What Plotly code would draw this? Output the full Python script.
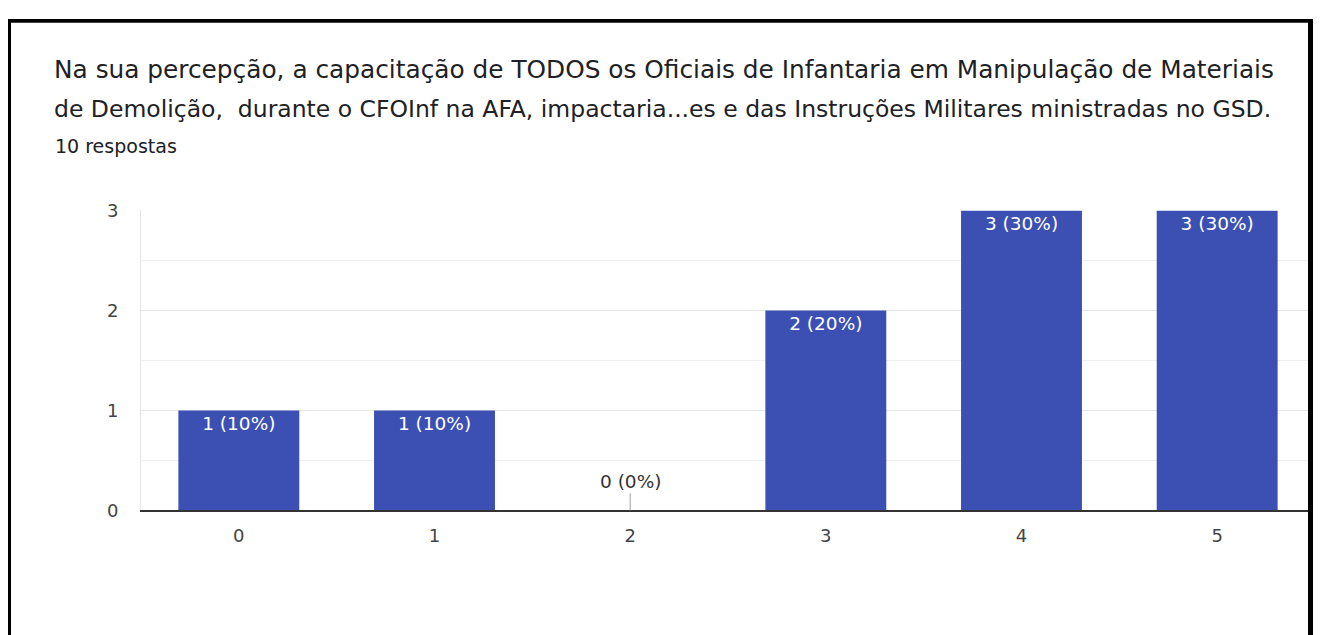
import plotly.graph_objects as go

# survey answers (scale 0..5) and number of responses
categories = ["0", "1", "2", "3", "4", "5"]
counts = [1, 1, 0, 2, 3, 3]
total = 10
title_lines = [
    "Na sua percepção, a capacitação de TODOS os Oficiais de Infantaria em Manipulação de Materiais",
    "de Demolição,  durante o CFOInf na AFA, impactaria...es e das Instruções Militares ministradas no GSD.",
]
subtitle = "10 respostas"
y_ticks = [0, 1, 2, 3]

# the page body adds an 8px margin
OFF = 8
W, H = 1321 - OFF, 638
bar_color = "#3c50b4"
FONT = "DejaVu Sans"

# vertical correction measured from earlier renders
YA, YB = 10.9, 0.967


def px(x):
    return (x - OFF) / W


def py(y):
    d = (y - YA) / YB
    return 1 - (d - OFF) / H


labels = ["{} ({}%)".format(c, round(100 * c / total)) for c in counts]

fig = go.Figure()
fig.add_trace(go.Bar(
    x=categories, y=counts,
    marker=dict(color=bar_color, line=dict(width=0)),
    width=0.618,
    text=[l if c > 0 else "" for l, c in zip(labels, counts)],
    textposition="inside",
    insidetextanchor="end",
    textangle=0,
    textfont=dict(family=FONT, size=18.5, color="white"),
    hoverinfo="skip",
))

# zero-height bars get their label above with a small stub
annotations = []
for cat, c, l in zip(categories, counts, labels):
    if c == 0:
        annotations.append(dict(
            x=cat, y=0, xref="x", yref="y", text=l,
            showarrow=True, arrowhead=0, arrowwidth=1, arrowcolor="#9e9e9e",
            ax=0, ay=-29, font=dict(family=FONT, size=18.5, color="#333333"),
        ))

annotations += [
    dict(x=px(52), y=py(69), xref="paper", yref="paper", xanchor="left", yanchor="middle",
         text=title_lines[0], showarrow=False,
         font=dict(family=FONT, size=24.8, color="#202124")),
    dict(x=px(52), y=py(109), xref="paper", yref="paper", xanchor="left", yanchor="middle",
         text=title_lines[1], showarrow=False,
         font=dict(family=FONT, size=23.5, color="#202124")),
    dict(x=px(53), y=py(145.5), xref="paper", yref="paper", xanchor="left", yanchor="middle",
         text=subtitle, showarrow=False,
         font=dict(family=FONT, size=19, color="#202124")),
]

# black frame around the card
shapes = [
    dict(type="rect", xref="paper", yref="paper", x0=0, x1=px(11), y0=0, y1=1,
         fillcolor="black", line=dict(width=0), layer="above"),
    dict(type="rect", xref="paper", yref="paper", x0=0, x1=1, y0=1 - 4 / H, y1=1,
         fillcolor="black", line=dict(width=0), layer="above"),
    dict(type="rect", xref="paper", yref="paper", x0=px(1308), x1=1, y0=0, y1=1,
         fillcolor="black", line=dict(width=0), layer="above"),
]

fig.update_layout(
    width=W, height=H,
    margin=dict(l=0, r=0, t=0, b=0),
    paper_bgcolor="white", plot_bgcolor="white",
    showlegend=False,
    annotations=annotations,
    shapes=shapes,
    xaxis=dict(
        domain=[px(141), px(1315)],
        type="category",
        showgrid=False,
        showline=True, linecolor="#333333", linewidth=1.5,
        ticks="", ticklabelstandoff=8,
        tickfont=dict(family=FONT, size=18, color="#444444"),
        fixedrange=True,
    ),
    yaxis=dict(
        domain=[py(510), py(210)],
        range=[0, 3],
        tickvals=y_ticks,
        showgrid=True, gridcolor="#e6e6e6", gridwidth=1,
        minor=dict(dtick=0.5, showgrid=True, gridcolor="#efefef", gridwidth=1),
        zeroline=False,
        showline=True, linecolor="#e6e6e6", linewidth=1,
        ticks="", ticklabelstandoff=18,
        tickfont=dict(family=FONT, size=18, color="#444444"),
        fixedrange=True,
    ),
)

fig.write_html("out.html")
